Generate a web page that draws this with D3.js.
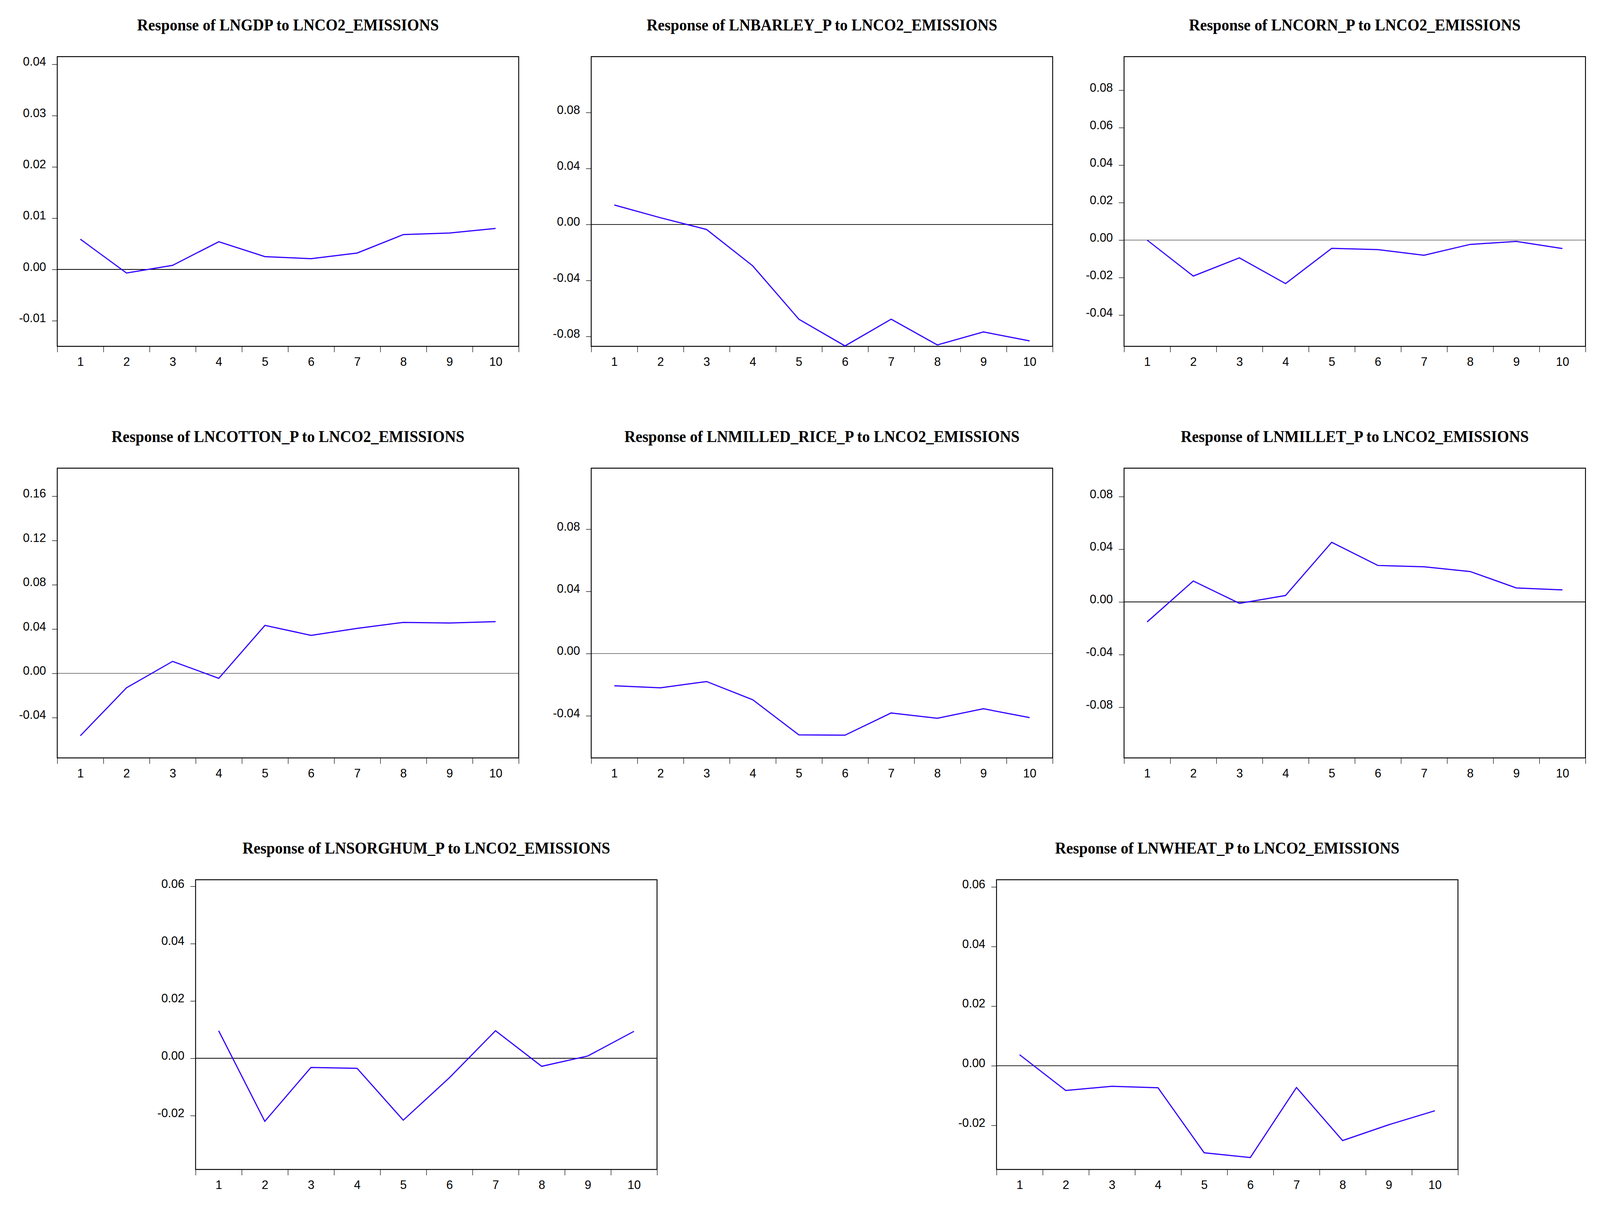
<!DOCTYPE html>
<html>
<head>
<meta charset="utf-8">
<script src="https://cdn.jsdelivr.net/npm/d3@7"></script>
<style>
  html, body { margin: 0; padding: 0; background: #fff; width: 100%; height: 100%; overflow: hidden; }
  svg { display: block; width: 100vw; height: 100vh; }
  .tick text { font-family: "Liberation Sans", Arial, sans-serif; font-size: 32px; fill: #000; }
  .title { font-family: "Liberation Serif", "Times New Roman", serif; font-weight: bold; font-size: 41.5px; }
</style>
</head>
<body>
<script>
// impulse responses, periods 1..10
const periods = [1, 2, 3, 4, 5, 6, 7, 8, 9, 10];

const titles = [
  'Response of LNGDP to LNCO2_EMISSIONS',
  'Response of LNBARLEY_P to LNCO2_EMISSIONS',
  'Response of LNCORN_P to LNCO2_EMISSIONS',
  'Response of LNCOTTON_P to LNCO2_EMISSIONS',
  'Response of LNMILLED_RICE_P to LNCO2_EMISSIONS',
  'Response of LNMILLET_P to LNCO2_EMISSIONS',
  'Response of LNSORGHUM_P to LNCO2_EMISSIONS',
  'Response of LNWHEAT_P to LNCO2_EMISSIONS',
];

const lngdp = [0.0059, -0.0007, 0.0008, 0.0054, 0.0025, 0.0021, 0.0032, 0.0068, 0.0071, 0.0080];
const lnbarley = [0.0139, 0.0048, -0.0036, -0.0296, -0.0677, -0.0868, -0.0677, -0.0861, -0.0768, -0.0832];
const lncorn = [0.0000, -0.0192, -0.0095, -0.0232, -0.0044, -0.0051, -0.0081, -0.0023, -0.0007, -0.0045];
const lncotton = [-0.0564, -0.0131, 0.0108, -0.0045, 0.0433, 0.0343, 0.0406, 0.0460, 0.0455, 0.0467];
const lnrice = [-0.0207, -0.0220, -0.0180, -0.0297, -0.0523, -0.0525, -0.0382, -0.0416, -0.0355, -0.0412];
const lnmillet = [-0.0152, 0.0159, -0.0011, 0.0049, 0.0453, 0.0277, 0.0267, 0.0231, 0.0106, 0.0091];
const lnsorghum = [0.0096, -0.0220, -0.0032, -0.0035, -0.0216, -0.0068, 0.0096, -0.0028, 0.0008, 0.0094];
const lnwheat = [0.0037, -0.0083, -0.0069, -0.0074, -0.0292, -0.0308, -0.0073, -0.0251, -0.0198, -0.0151];

const yTicks = [
  [-0.01, 0, 0.01, 0.02, 0.03, 0.04],
  [-0.08, -0.04, 0, 0.04, 0.08],
  [-0.04, -0.02, 0, 0.02, 0.04, 0.06, 0.08],
  [-0.04, 0, 0.04, 0.08, 0.12, 0.16],
  [-0.04, 0, 0.04, 0.08],
  [-0.08, -0.04, 0, 0.04, 0.08],
  [-0.02, 0, 0.02, 0.04, 0.06],
  [-0.02, 0, 0.02, 0.04, 0.06],
];

const yDomains = [
  [-0.0150, 0.0415],
  [-0.0871, 0.1199],
  [-0.0567, 0.0979],
  [-0.0764, 0.1853],
  [-0.0671, 0.1192],
  [-0.1185, 0.1016],
  [-0.0388, 0.0623],
  [-0.0348, 0.0624],
];

const series = [lngdp, lnbarley, lncorn, lncotton, lnrice, lnmillet, lnsorghum, lnwheat];

// frame placement (in the 4303 x 3086 drawing space)
const W = 4303, H = 3086;
const pw = 1241, ph = 742;
const spots = [
  [154, 145], [1590, 145], [3023, 145],
  [154, 1199], [1590, 1199], [3023, 1199],
  [526, 2253], [2680, 2253],
];
const thinZero = [2, 3, 4];

// scale the drawing to whatever viewport we get
const svg = d3.select('body').append('svg')
  .attr('viewBox', `0 0 ${W} ${H}`)
  .attr('preserveAspectRatio', 'none');

svg.append('rect').attr('width', W).attr('height', H).attr('fill', '#fff');

const fmt = d => d.toFixed(2);

series.forEach((vals, i) => {
  const [left, top] = spots[i];
  const g = svg.append('g').attr('transform', `translate(${left},${top})`);

  const x = d3.scaleLinear().domain([0.5, 10.5]).range([0, pw]);
  const y = d3.scaleLinear().domain(yDomains[i]).range([ph, 0]);

  g.append('text')
    .attr('class', 'title')
    .attr('x', pw / 2)
    .attr('y', -67)
    .attr('text-anchor', 'middle')
    .text(titles[i]);

  // zero line
  g.append('line')
    .attr('x1', 0).attr('x2', pw)
    .attr('y1', y(0)).attr('y2', y(0))
    .attr('stroke', '#000')
    .attr('stroke-width', thinZero.includes(i) ? 1 : 1.8);

  // y axis
  const ya = g.append('g')
    .call(d3.axisLeft(y).tickValues(yTicks[i]).tickFormat(fmt).tickSize(14).tickPadding(16));
  ya.select('.domain').remove();
  ya.selectAll('.tick line').attr('stroke', '#000').attr('stroke-width', 1.3);
  ya.selectAll('.tick text').attr('dy', '0.1em');

  // x axis: ticks at band edges, labels at centres
  const xa = g.append('g')
    .attr('transform', `translate(0,${ph})`)
    .call(d3.axisBottom(x).tickValues(d3.range(0.5, 11, 1)).tickFormat('').tickSize(15));
  xa.select('.domain').remove();
  xa.selectAll('.tick line').attr('stroke', '#000').attr('stroke-width', 1.3);

  const xl = g.append('g')
    .attr('transform', `translate(0,${ph})`)
    .call(d3.axisBottom(x).tickValues(periods).tickFormat(d3.format('d')).tickSize(0).tickPadding(27));
  xl.select('.domain').remove();

  // frame
  g.append('rect')
    .attr('width', pw).attr('height', ph)
    .attr('fill', 'none')
    .attr('stroke', '#000')
    .attr('stroke-width', 2.4);

  const line = d3.line()
    .x((d, j) => x(periods[j]))
    .y(d => y(d));

  g.append('path')
    .datum(vals)
    .attr('fill', 'none')
    .attr('stroke', '#3300ff')
    .attr('stroke-width', 3)
    .attr('stroke-linejoin', 'miter')
    .attr('d', line);
});
</script>
</body>
</html>
